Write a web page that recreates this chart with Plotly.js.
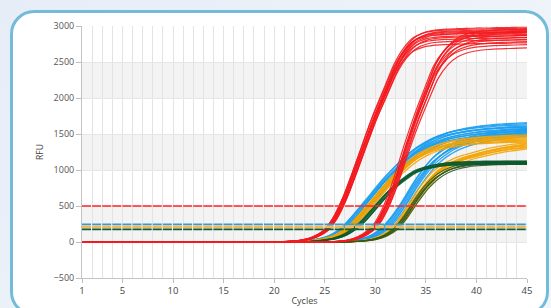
<!DOCTYPE html>
<html>
<head>
<meta charset="utf-8">
<script src="https://cdn.plot.ly/plotly-3.0.1.min.js"></script>
<style>
  html, body { margin:0; padding:0; width:551px; height:308px; overflow:hidden;
    background: linear-gradient(135deg, #e6edf7 0%, #eef3fa 60%, #f2f5fb 100%); }
  #card { position:absolute; left:10px; top:10px; width:533px; height:300px;
    border:3px solid #72bcd9; border-radius:24px; background:#ffffff; }
  #chart { position:absolute; left:0; top:0; width:551px; height:308px; }
</style>
</head>
<body>
<div id="card"></div>
<div id="chart"></div>
<script>
// ---- data ----
const cycles = [1,2,3,4,5,6,7,8,9,10,11,12,13,14,15,16,17,18,19,20,21,22,23,24,25,26,27,28,29,30,31,32,33,34,35,36,37,38,39,40,41,42,43,44,45];
const xTickVals = [1,5,10,15,20,25,30,35,40,45];
const yTickVals = [-500,0,500,1000,1500,2000,2500,3000];

// representative amplification curves (RFU per cycle)
const redA    = [0,0,0,0,0,0,0,0,0,0,0,0,0,0,0,0,0,0,0,0,5,12,30,70,150,330,620,990,1380,1760,2090,2420,2650,2790,2850,2875,2885,2890,2895,2900,2900,2905,2905,2910,2910];
const redB    = [0,0,0,0,0,0,0,0,0,0,0,0,0,0,0,0,0,0,0,0,0,0,0,0,0,5,15,45,110,230,480,850,1300,1720,2090,2440,2650,2770,2830,2860,2875,2885,2890,2895,2900];
const blueA   = [0,0,0,0,0,0,0,0,0,0,0,0,0,0,0,0,0,0,0,0,0,0,10,25,50,100,190,340,510,680,850,1000,1140,1260,1350,1420,1470,1505,1530,1550,1565,1575,1585,1590,1595];
const blueB   = [0,0,0,0,0,0,0,0,0,0,0,0,0,0,0,0,0,0,0,0,0,0,0,0,0,0,8,20,45,100,200,360,560,790,990,1150,1260,1340,1395,1435,1465,1490,1505,1520,1530];
const orangeA = [0,0,0,0,0,0,0,0,0,0,0,0,0,0,0,0,0,0,0,0,0,0,8,20,40,80,160,280,440,610,780,930,1060,1170,1250,1310,1350,1380,1400,1415,1425,1432,1438,1442,1445];
const orangeB = [0,0,0,0,0,0,0,0,0,0,0,0,0,0,0,0,0,0,0,0,0,0,0,0,0,0,0,8,20,45,100,200,380,600,790,950,1050,1120,1170,1210,1245,1275,1300,1320,1335];
const greenA  = [0,0,0,0,0,0,0,0,0,0,0,0,0,0,0,0,0,0,0,0,0,0,0,10,25,50,100,190,320,480,640,780,890,980,1030,1060,1080,1090,1095,1098,1100,1100,1100,1100,1100];
const greenB  = [0,0,0,0,0,0,0,0,0,0,0,0,0,0,0,0,0,0,0,0,0,0,0,0,0,0,0,8,18,40,90,180,350,560,750,890,980,1035,1065,1080,1090,1095,1098,1100,1100];

// replicate spread: plateau ratios and Ct offsets (cycles)
const redAScale = [0.95,0.965,0.975,0.985,0.99,1.0,1.0,1.005,1.01,1.015,1.02,1.025];
const redAShift = [-0.25,0.1,-0.1,0.2,0,-0.2,0.15,-0.05,0.05,0.25,-0.15,0.1];
const redBScale = [0.93,0.945,0.96,0.97,0.98,0.99,1.0,1.005,1.01,1.02];
const redBShift = [0.2,-0.2,0.1,-0.1,0.25,0,-0.25,0.15,-0.05,0.05];
const blueAScale = [0.94,0.95,0.96,0.97,0.98,0.99,1.0,1.0,1.01,1.02,1.03,1.04];
const blueAShift = [-0.5,0.4,-0.3,0.2,-0.1,0.5,0,-0.4,0.3,-0.2,0.1,0.45];
const blueBScale = [0.96,0.97,0.98,0.99,1.0,1.01,1.02,1.03];
const blueBShift = [0.35,-0.3,0.2,-0.1,0.05,-0.35,0.25,-0.2];
const orangeAScale = [0.96,0.97,0.98,0.99,1.0,1.01,1.02,1.03];
const orangeAShift = [-0.35,0.3,-0.2,0.1,0,0.35,-0.1,0.2];
const orangeBScale = [0.97,0.98,0.99,1.0,1.01,1.02,1.03];
const orangeBShift = [0.3,-0.25,0.15,0,-0.1,0.25,-0.3];
const greenAScale = [0.98,0.99,1.0,1.01,1.02];
const greenAShift = [-0.25,0.15,0,-0.1,0.25];
const greenBScale = [0.98,0.99,1.0,1.01,1.02];
const greenBShift = [0.2,-0.15,0,0.1,-0.2];

// thresholds
const thresholdValues = [500, 246, 213, 176];

// ---- styling ----
const RED = '#f31b1f', BLUE = '#1d9ff0', ORANGE = '#f4a300', GREEN = '#0b5a2c';
const thresholdColors = ['#ff2424', '#1aa3f2', '#f2b660', '#155c33'];
const thresholdWidths = [1.4, 1.6, 3, 1.6];

const traces = [];
function addGroup(base, scales, shifts, color, width) {
  for (let i = 0; i < scales.length; i++) {
    const xs = cycles.map((c, k) => (k === cycles.length - 1 ? c : c + shifts[i]));
    const ys = base.map(v => v * scales[i]);
    traces.push({ type:'scatter', mode:'lines', x:xs, y:ys, hoverinfo:'skip',
      line:{ color:color, width:width, shape:'spline', smoothing:0.6 }, opacity:0.9, showlegend:false });
  }
}
addGroup(blueB, blueBScale, blueBShift, BLUE, 1.3);
addGroup(orangeB, orangeBScale, orangeBShift, ORANGE, 1.3);
addGroup(greenB, greenBScale, greenBShift, '#2f5a20', 1.1);
addGroup(blueA, blueAScale, blueAShift, BLUE, 1.3);
addGroup(orangeA, orangeAScale, orangeAShift, ORANGE, 1.3);
addGroup(greenA, greenAScale, greenAShift, GREEN, 1.4);
addGroup(redB, redBScale, redBShift, RED, 1.2);
addGroup(redA, redAScale, redAShift, RED, 1.2);

const plotW = 551 - 82 - 24;
const pxPerCycle = plotW / (cycles[cycles.length-1] - cycles[0]);
const dashStr = (pxPerCycle - 1.1).toFixed(2) + 'px,1.1px';
thresholdValues.forEach((t, i) => {
  traces.push({ type:'scatter', mode:'lines', x:[cycles[0], cycles[cycles.length-1]], y:[t, t],
    hoverinfo:'skip', showlegend:false,
    line:{ color:thresholdColors[i], width:thresholdWidths[i], dash:dashStr } });
});

// alternating bands
const shapes = [];
for (let i = 1; i + 1 < yTickVals.length; i += 2) {
  shapes.push({ type:'rect', xref:'paper', x0:0, x1:1, yref:'y', y0:yTickVals[i], y1:yTickVals[i+1],
    fillcolor:'#f3f3f3', line:{width:0}, layer:'below' });
}

const font = { family:'"Open Sans", "Noto Sans", sans-serif', size:9, color:'#555' };
const layout = {
  width:551, height:308,
  margin:{ l:82, r:24, t:26, b:30 },
  paper_bgcolor:'rgba(0,0,0,0)', plot_bgcolor:'#ffffff',
  font: font, showlegend:false, hovermode:false,
  shapes: shapes,
  xaxis:{
    range:[cycles[0], cycles[cycles.length-1]], tickmode:'array', tickvals:xTickVals,
    ticks:'outside', ticklen:4, tickcolor:'#bdbdbd', showline:true, linecolor:'#c4c4c4', linewidth:1,
    showgrid:true, gridcolor:'#e3e3e3', gridwidth:1, zeroline:false,
    minor:{ tick0:1, dtick:1, showgrid:true, gridcolor:'#e3e3e3', gridwidth:1, ticks:'' },
    tickfont:{ family:font.family, size:9.5, color:'#444' },
    title:{ text:'Cycles', font:{ family:font.family, size:9, color:'#444' }, standoff:1 }
  },
  yaxis:{
    range:[-500, 3000], tickmode:'array', tickvals:yTickVals,
    ticks:'outside', ticklen:5, tickcolor:'#bdbdbd', showline:true, linecolor:'#c4c4c4', linewidth:1,
    showgrid:true, gridcolor:'#e6e6e6', zeroline:false,
    tickfont:{ family:font.family, size:9, color:'#555' },
    title:{ text:'RFU', font:{ family:font.family, size:8.5, color:'#444' }, standoff:8 }
  }
};
Plotly.newPlot('chart', traces, layout, { staticPlot:true, displayModeBar:false });
</script>
</body>
</html>
